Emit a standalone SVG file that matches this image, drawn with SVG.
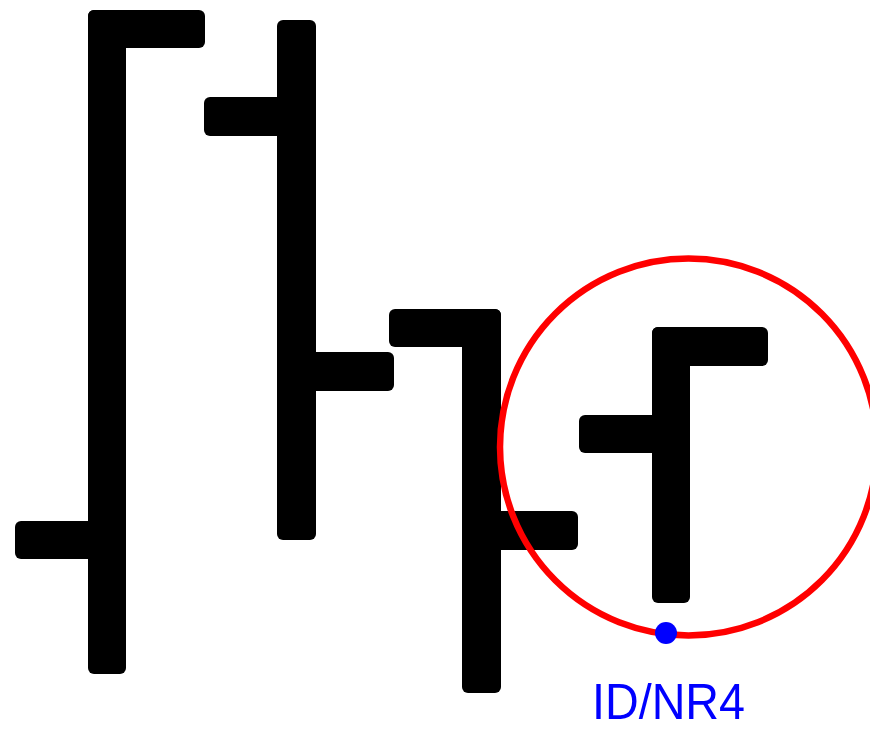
<svg xmlns="http://www.w3.org/2000/svg" width="870" height="730" viewBox="0 0 870 730">
<style>
.b{fill:#000000}
.ring{fill:none;stroke:#ff0000;stroke-width:6.5}
.lbl{font-family:"Liberation Sans",Arial,sans-serif;font-size:50px;fill:#0000ff}
</style>
<rect width="870" height="730" fill="#ffffff"/>
<g id="shape1">
<rect class="b" x="88" y="10" width="38" height="664" rx="6"/>
<rect class="b" x="88" y="10" width="117" height="38" rx="6"/>
<rect class="b" x="15" y="521" width="100" height="38" rx="6"/>
</g>
<g id="shape2">
<rect class="b" x="277" y="20" width="39" height="520" rx="6"/>
<rect class="b" x="204" y="97" width="90" height="39" rx="6"/>
<rect class="b" x="300" y="352" width="94" height="39" rx="6"/>
</g>
<g id="shape3">
<rect class="b" x="389" y="309" width="112" height="38" rx="6"/>
<rect class="b" x="462" y="309" width="39" height="384" rx="6"/>
<rect class="b" x="480" y="511" width="98" height="39" rx="6"/>
</g>
<g id="shape4">
<rect class="b" x="652" y="327" width="116" height="39" rx="6"/>
<rect class="b" x="652" y="327" width="38" height="276" rx="6"/>
<rect class="b" x="579" y="415" width="90" height="38" rx="6"/>
</g>
<g id="highlight">
<circle class="ring" cx="688.5" cy="447" r="188.5"/>
</g>
<g id="point">
<circle cx="666" cy="633" r="11" fill="#0000ff"/>
<text class="lbl" x="592" y="719" textLength="153" lengthAdjust="spacingAndGlyphs">ID/NR4</text>
</g>
</svg>
